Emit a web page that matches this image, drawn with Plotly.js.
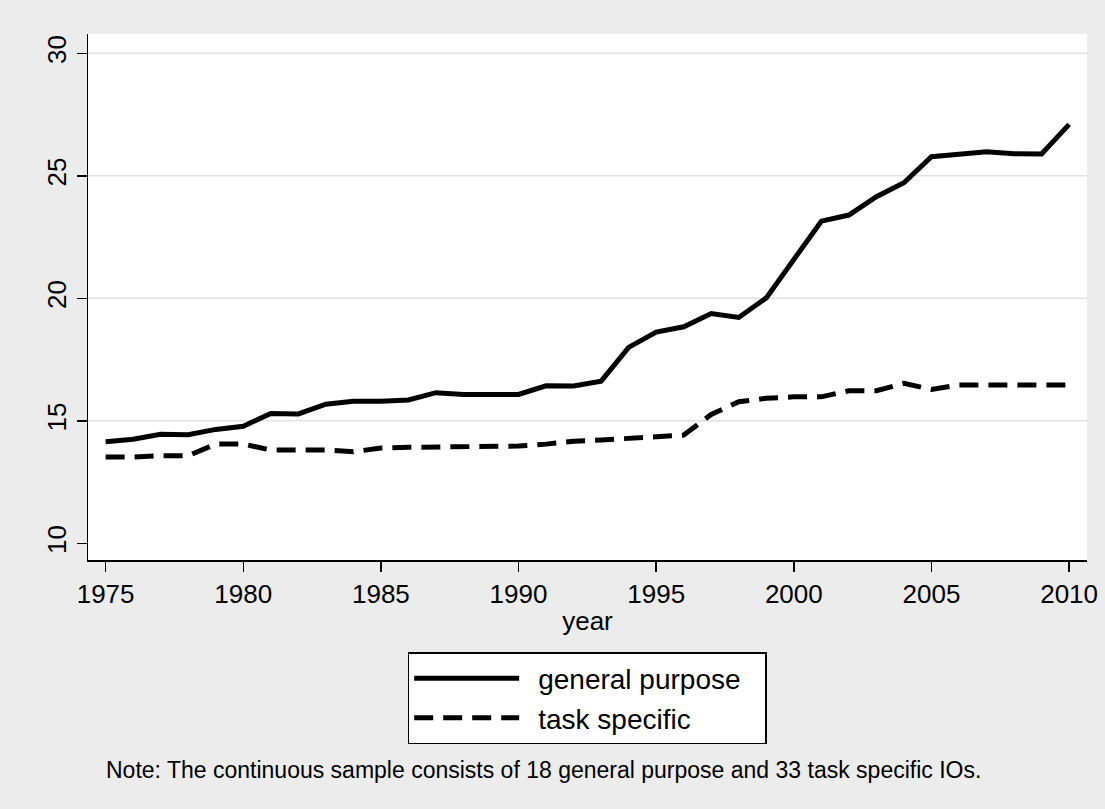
<!DOCTYPE html>
<html>
<head>
<meta charset="utf-8">
<script src="https://cdn.plot.ly/plotly-3.0.1.min.js"></script>
<style>
  html, body { margin: 0; padding: 0; background: #ececec; }
  #chart { width: 1105px; height: 809px; }
</style>
</head>
<body>
<div id="chart"></div>
<script>
const years = [1975,1976,1977,1978,1979,1980,1981,1982,1983,1984,1985,1986,1987,1988,1989,1990,1991,1992,1993,1994,1995,1996,1997,1998,1999,2000,2001,2002,2003,2004,2005,2006,2007,2008,2009,2010];
const generalPurpose = [14.15,14.25,14.45,14.43,14.65,14.78,15.3,15.28,15.68,15.8,15.8,15.85,16.15,16.08,16.08,16.08,16.43,16.42,16.62,18.0,18.62,18.84,19.38,19.22,20.02,21.6,23.15,23.4,24.15,24.72,25.78,25.88,25.98,25.9,25.89,27.1];
const taskSpecific = [13.52,13.52,13.58,13.58,14.05,14.05,13.81,13.81,13.81,13.74,13.89,13.92,13.94,13.97,13.97,13.97,14.05,14.17,14.22,14.26,14.35,14.42,15.26,15.78,15.92,15.98,15.98,16.23,16.23,16.53,16.28,16.46,16.46,16.46,16.46,16.46];
const xTicks = [1975,1980,1985,1990,1995,2000,2005,2010];
const yTicks = [10,15,20,25,30];
const gridValues = [15,20,25,30];
const seriesNames = ['general purpose','task specific'];
const noteText = 'Note: The continuous sample consists of 18 general purpose and 33 task specific IOs.';

const FONT = 'Liberation Sans, Arial, Helvetica, sans-serif';
const LEAD = '\u2002';
const TRAIL = '\u2002\u2009';

const traces = [
  {x: years, y: generalPurpose, name: LEAD + seriesNames[0] + TRAIL, type: 'scatter', mode: 'lines',
   line: {color: '#000000', width: 5, dash: 'solid'}},
  {x: years, y: taskSpecific, name: LEAD + seriesNames[1], type: 'scatter', mode: 'lines',
   line: {color: '#000000', width: 5, dash: '19px,10px'}}
];

const shapes = gridValues.map(v => ({
  type: 'line', xref: 'paper', yref: 'y', x0: 0, x1: 1, y0: v, y1: v,
  line: {color: '#e2e2e2', width: 1.5}, layer: 'below'
}));

const axisCommon = {
  showline: true, linecolor: '#000000', linewidth: 1.5,
  ticks: 'outside', ticklen: 10, tickwidth: 1.5, tickcolor: '#000000',
  showgrid: false, zeroline: false,
  tickfont: {family: FONT, size: 26, color: '#000000'},
  fixedrange: true
};

const layout = {
  width: 1105, height: 809,
  margin: {l: 88, r: 18, t: 34, b: 249, pad: 0},
  paper_bgcolor: '#ececec',
  plot_bgcolor: '#ffffff',
  font: {family: FONT, color: '#000000'},
  xaxis: Object.assign({}, axisCommon, {
    range: [1974.36, 2010.65], tickmode: 'array', tickvals: xTicks,
    title: {text: 'year', font: {family: FONT, size: 26, color: '#000000'}, standoff: 4}
  }),
  yaxis: Object.assign({}, axisCommon, {
    range: [9.32, 30.79], tickmode: 'array', tickvals: yTicks, tickangle: -90
  }),
  shapes: shapes,
  showlegend: true,
  legend: {
    x: 0.32, y: -0.175, xanchor: 'left', yanchor: 'top',
    bgcolor: '#ffffff', bordercolor: '#000000', borderwidth: 1.5,
    font: {family: FONT, size: 28, color: '#000000'},
    itemwidth: 105, orientation: 'v'
  },
  annotations: [{
    text: noteText, xref: 'paper', yref: 'paper', x: 0.016, y: -0.399,
    xanchor: 'left', yanchor: 'middle', showarrow: false,
    font: {family: FONT, size: 23, color: '#000000'}
  }]
};

Plotly.newPlot('chart', traces, layout, {displayModeBar: false, staticPlot: true});
</script>
</body>
</html>
